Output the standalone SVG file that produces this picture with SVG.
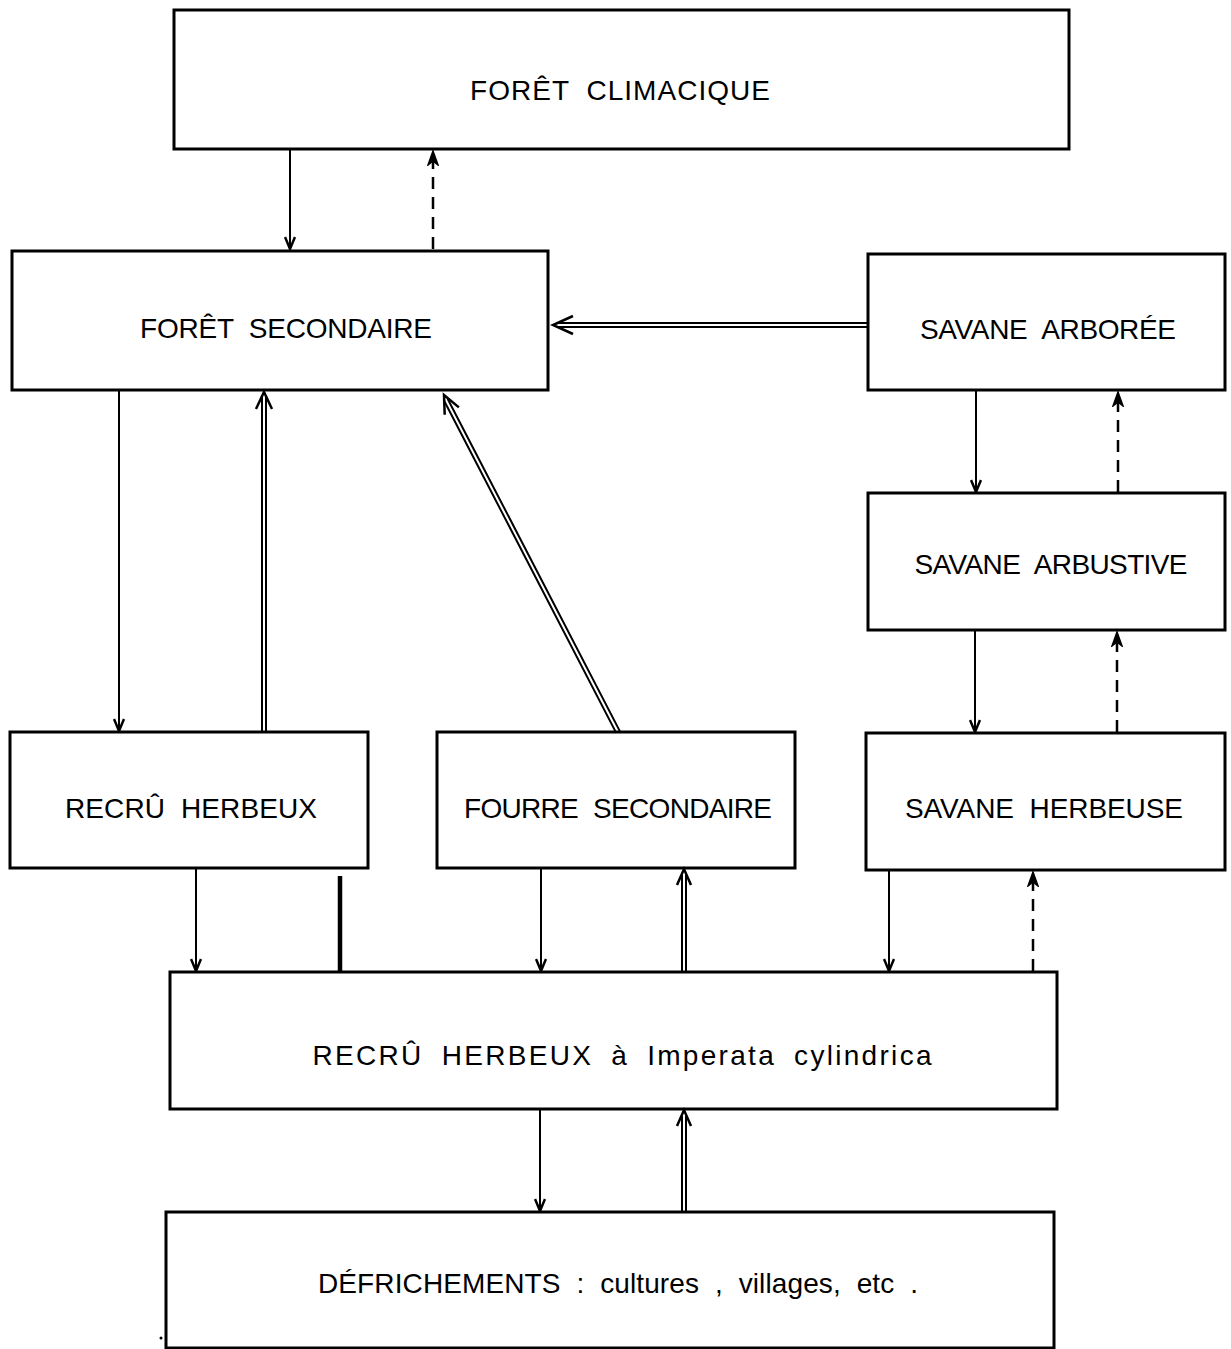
<svg xmlns="http://www.w3.org/2000/svg" width="1231" height="1349" viewBox="0 0 1231 1349">
<style>
.box{fill:#fff;stroke:#000;stroke-width:3}
.lbl{font-family:"Liberation Sans","DejaVu Sans",sans-serif;font-size:28px;fill:#000;text-anchor:middle;word-spacing:8px}
.ln{stroke:#000;stroke-width:2;fill:none}
.dash{stroke:#000;stroke-width:2.5;fill:none;stroke-dasharray:12 8}
.dbl{stroke:#000;stroke-width:2;fill:none}
.head{stroke:#000;stroke-width:2.5;fill:none;stroke-linejoin:miter}
</style>
<defs>
<marker id="ah" viewBox="0 0 14 12" refX="13" refY="6" markerWidth="14" markerHeight="12" markerUnits="userSpaceOnUse" orient="auto">
<path d="M1,1 L13,6 L1,11" fill="none" stroke="#000" stroke-width="2.5"/>
</marker>
<marker id="ahd" viewBox="0 0 16 12" refX="15" refY="6" markerWidth="16" markerHeight="12" markerUnits="userSpaceOnUse" orient="auto">
<path d="M1,1 L15,6 L1,11 L5,6 Z" fill="#000" stroke="#000" stroke-width="1.5"/>
</marker>
</defs>
<rect width="1231" height="1349" fill="#fff"/>

<g id="foret-climacique"><rect class="box" x="174" y="10" width="895" height="139"/><text class="lbl" x="620" y="100" textLength="300">FORÊT  CLIMACIQUE</text></g>
<g id="foret-secondaire"><rect class="box" x="12" y="251" width="536" height="139"/><text class="lbl" x="286" y="338" textLength="292">FORÊT  SECONDAIRE</text></g>
<g id="savane-arboree"><rect class="box" x="868" y="254" width="357" height="136"/><text class="lbl" x="1048" y="339" textLength="256">SAVANE  ARBORÉE</text></g>
<g id="savane-arbustive"><rect class="box" x="868" y="493" width="357" height="137"/><text class="lbl" x="1051" y="574" textLength="273">SAVANE  ARBUSTIVE</text></g>
<g id="recru-herbeux"><rect class="box" x="10" y="732" width="358" height="136"/><text class="lbl" x="191" y="818" textLength="252">RECRÛ  HERBEUX</text></g>
<g id="fourre-secondaire"><rect class="box" x="437" y="732" width="358" height="136"/><text class="lbl" x="618" y="818" textLength="308">FOURRE  SECONDAIRE</text></g>
<g id="savane-herbeuse"><rect class="box" x="866" y="733" width="359" height="137"/><text class="lbl" x="1044" y="818" textLength="278">SAVANE  HERBEUSE</text></g>
<g id="recru-imperata"><rect class="box" x="170" y="972" width="887" height="137"/><text class="lbl" x="622" y="1065" textLength="619">RECRÛ    HERBEUX   à   Imperata  cylindrica</text></g>
<g id="defrichements"><rect class="box" x="166" y="1212" width="888" height="136"/><text class="lbl" x="618" y="1293" textLength="600">DÉFRICHEMENTS : cultures , villages, etc .</text></g>

<g id="connectors">
<line class="ln" x1="290" y1="150" x2="290" y2="249" marker-end="url(#ah)"/>
<line class="dash" x1="433" y1="249" x2="433" y2="151" marker-end="url(#ahd)"/>
<path class="dbl" d="M868,323 L557,323 M868,327 L557,327"/>
<path class="head" d="M573,316 L553,325 L573,334"/>
<line class="ln" x1="119" y1="391" x2="119" y2="731" marker-end="url(#ah)"/>
<path class="dbl" d="M262,732 L262,397 M266,732 L266,397"/>
<path class="head" d="M256,409 L264,392 L272,409"/>
<path class="dbl" d="M619.8,731.1 L447.6,398.7 M616.2,732.9 L444,400.5"/>
<path class="head" d="M458.9,407.4 L444,395 L444.7,414.8"/>
<line class="ln" x1="976" y1="391" x2="976" y2="492" marker-end="url(#ah)"/>
<line class="dash" x1="1118" y1="492" x2="1118" y2="392" marker-end="url(#ahd)"/>
<line class="ln" x1="975" y1="631" x2="975" y2="732" marker-end="url(#ah)"/>
<line class="dash" x1="1117" y1="732" x2="1117" y2="632" marker-end="url(#ahd)"/>
<line class="ln" x1="196" y1="869" x2="196" y2="971" marker-end="url(#ah)"/>
<line x1="340" y1="876" x2="340" y2="972" stroke="#000" stroke-width="4.5"/>
<line class="ln" x1="541" y1="869" x2="541" y2="971" marker-end="url(#ah)"/>
<path class="dbl" d="M682,972 L682,875 M686,972 L686,875"/>
<path class="head" d="M677,885 L684,869 L691,885"/>
<line class="ln" x1="889" y1="871" x2="889" y2="971" marker-end="url(#ah)"/>
<line class="dash" x1="1033" y1="971" x2="1033" y2="872" marker-end="url(#ahd)"/>
<line class="ln" x1="540" y1="1110" x2="540" y2="1211" marker-end="url(#ah)"/>
<path class="dbl" d="M682,1212 L682,1116 M686,1212 L686,1116"/>
<path class="head" d="M677,1126 L684,1110 L691,1126"/>
</g>
<circle cx="161" cy="1338" r="1.5" fill="#000"/>
</svg>
